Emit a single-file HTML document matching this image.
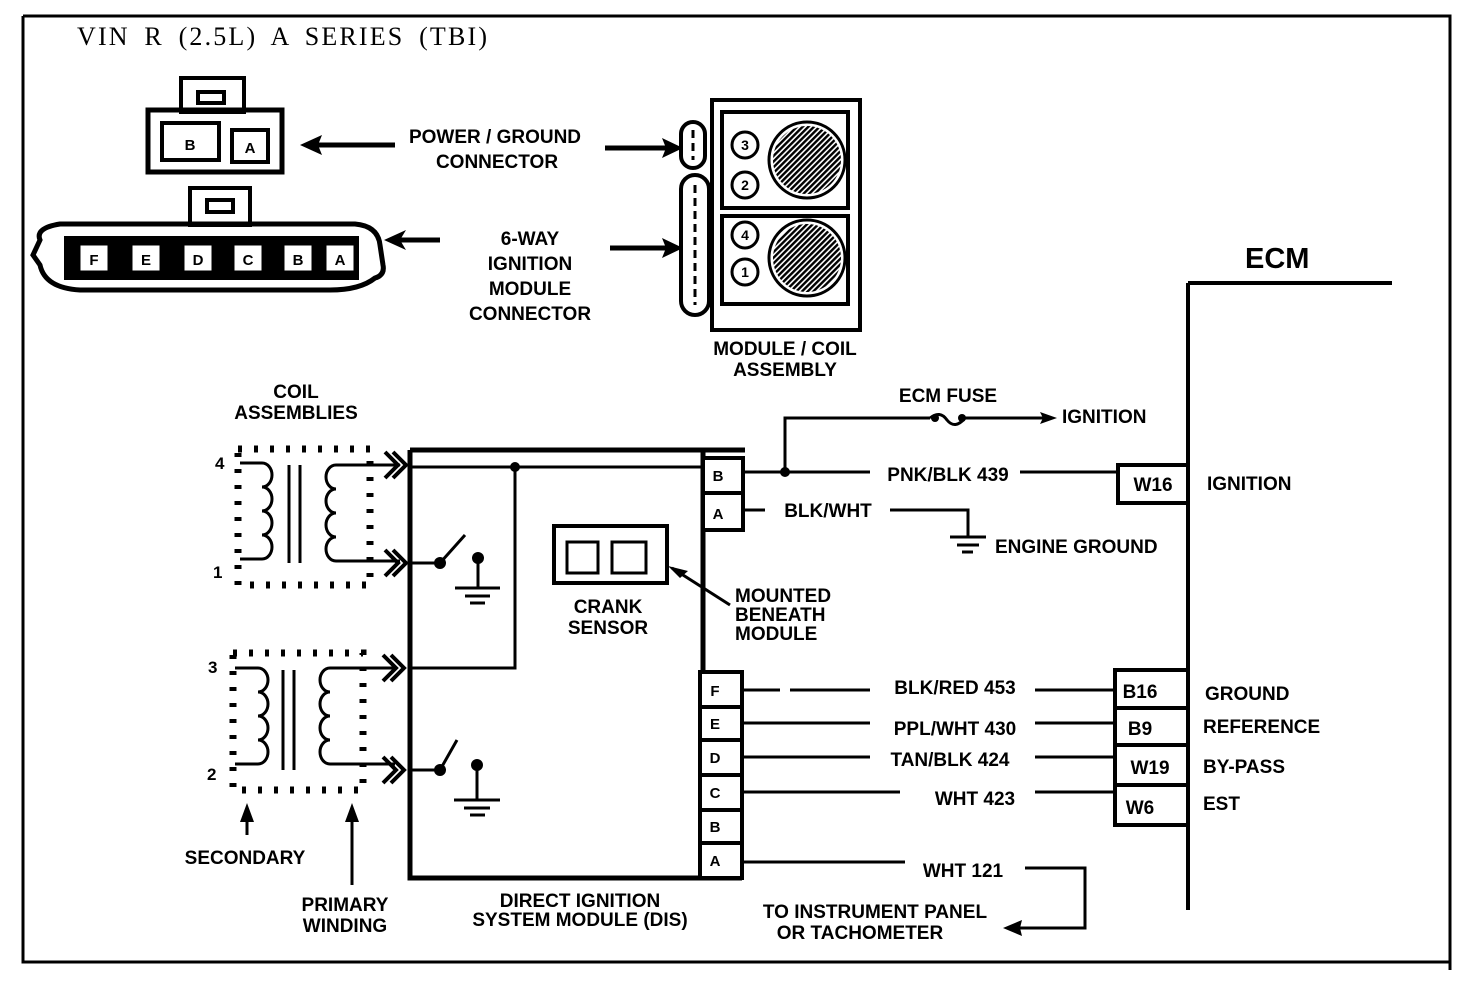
<!DOCTYPE html>
<html><head><meta charset="utf-8"><style>
html,body{margin:0;padding:0;background:#fff;}
svg{display:block;}
text{font-family:"Liberation Sans",sans-serif;font-weight:bold;fill:#000;}
.l{font-size:19px;}
</style></head><body>
<svg width="1472" height="982" viewBox="0 0 1472 982" xmlns="http://www.w3.org/2000/svg">
<defs>
<pattern id="h" width="4" height="4" patternUnits="userSpaceOnUse" patternTransform="rotate(45)">
<rect width="4" height="4" fill="#fff"/><rect width="2.4" height="4" fill="#000"/></pattern>
</defs>
<g fill="none" stroke="#000" stroke-width="3">
<path d="M23 16 H1450 V970 M23 16 V962 H1450" stroke-width="3"/>
<rect x="181" y="78" width="63" height="34" stroke-width="4"/>
<rect x="198" y="92" width="26" height="11" stroke-width="4"/>
<rect x="148" y="110" width="134" height="62" stroke-width="5"/>
<rect x="162" y="123" width="57" height="37" stroke-width="4"/>
<rect x="232" y="130" width="36" height="32" stroke-width="4"/>
<path d="M310 145 H395 M605 148 H672" stroke-width="5"/>
<rect x="190" y="188" width="60" height="37" stroke-width="4"/>
<rect x="207" y="200" width="26" height="12" stroke-width="4"/>
<path d="M40 240 Q35 228 60 224 H355 Q378 226 380 245 L383 265 Q385 275 375 278 Q360 290 330 290 H80 Q45 288 40 265 L33 255 Z" stroke-width="5"/>
<path d="M395 240 H440 M610 248 H672" stroke-width="5"/>
<rect x="712" y="100" width="148" height="230" stroke-width="4"/>
<rect x="722" y="112" width="126" height="96" stroke-width="4"/>
<rect x="722" y="216" width="126" height="88" stroke-width="4"/>
<rect x="681" y="122" width="24" height="46" rx="12" stroke-width="4"/>
<rect x="681" y="175" width="28" height="140" rx="14" stroke-width="4"/>
<path d="M693 130 V160 M695 185 V305" stroke-width="3" stroke-dasharray="8 5"/>
<circle cx="745" cy="145" r="13"/><circle cx="745" cy="185" r="13"/>
<circle cx="745" cy="235" r="13"/><circle cx="745" cy="272" r="13"/>
<circle cx="807" cy="160" r="38"/><circle cx="807" cy="258" r="38"/>
<path d="M1188 283 H1392 M1188 283 V910" stroke-width="4"/>
<rect x="1118" y="465" width="70" height="38" stroke-width="4"/>
<rect x="1115" y="670" width="73" height="38" stroke-width="4"/>
<rect x="1115" y="708" width="73" height="37" stroke-width="4"/>
<rect x="1115" y="745" width="73" height="40" stroke-width="4"/>
<rect x="1115" y="785" width="73" height="40" stroke-width="4"/>
<path d="M410 450 H745 M410 450 V878 H742 M703 450 V878" stroke-width="5"/>
<rect x="703" y="458" width="40" height="72" stroke-width="4" fill="#fff"/>
<path d="M703 493 H743" stroke-width="4"/>
<rect x="700" y="672" width="42" height="206" stroke-width="4" fill="#fff"/>
<path d="M700 707 H742 M700 740 H742 M700 775 H742 M700 810 H742 M700 843 H742" stroke-width="4"/>
<path d="M410 467 H703 M515 467 V668 H410"/>
<path d="M410 563 H440 L465 535 M478 558 V588 M455 588 H500 M465 596 H490 M470 603 H485"/>
<path d="M410 770 H440 L457 740 M477 765 V800 M454 800 H500 M464 808 H490 M470 815 H485"/>
<rect x="554" y="526" width="113" height="57" stroke-width="4"/>
<rect x="567" y="542" width="31" height="31"/><rect x="612" y="542" width="34" height="31"/>
<path d="M730 605 L672 568"/>
<path d="M743 472 H870 M1020 472 H1118 M785 472 V418 H930 M965 418 H1045"/>
<path d="M930 418 Q940 410 947 420 Q955 430 965 418"/>
<path d="M743 510 H765 M890 510 H968 V537 M950 537 H986 M957 545 H979 M962 552 H973"/>
<path d="M742 690 H780 M790 690 H870 M1035 690 H1115 M742 723 H870 M1035 723 H1115 M742 757 H870 M1035 757 H1115 M742 792 H900 M1035 792 H1115 M742 862 H905 M1025 868 H1085 V928 H1010"/>
<path d="M247 835 V810 M352 885 V810" />
<g stroke-dasharray="4 12" stroke-width="7">
<rect x="238" y="449" width="132" height="136"/>
<rect x="233" y="653" width="130" height="137"/>
</g>
<path d="M240 463 H262 a10 12 0 0 1 0 24 a10 12 0 0 1 0 24 a10 12 0 0 1 0 24 a10 12 0 0 1 0 24 H240"/>
<path d="M400 465 H336 a10 12 0 0 0 0 24 a10 12 0 0 0 0 24 a10 12 0 0 0 0 24 a10 12 0 0 0 0 24 H400"/>
<path d="M289 465 V563 M300 465 V563"/>
<path d="M235 668 H258 a10 12 0 0 1 0 24 a10 12 0 0 1 0 24 a10 12 0 0 1 0 24 a10 12 0 0 1 0 24 H235"/>
<path d="M395 668 H330 a10 12 0 0 0 0 24 a10 12 0 0 0 0 24 a10 12 0 0 0 0 24 a10 12 0 0 0 0 24 H395"/>
<path d="M283 670 V770 M294 670 V770"/>
<g stroke-width="4">
<path d="M385 452 L398 465 L385 478 M393 452 L406 465 L393 478"/>
<path d="M385 550 L398 563 L385 576 M393 550 L406 563 L393 576"/>
<path d="M383 655 L396 668 L383 681 M391 655 L404 668 L391 681"/>
<path d="M383 757 L396 770 L383 783 M391 757 L404 770 L391 783"/>
</g>
</g>
<g fill="#000">
<circle cx="515" cy="467" r="5"/><circle cx="785" cy="472" r="5"/>
<circle cx="440" cy="563" r="6"/><circle cx="478" cy="558" r="6"/>
<circle cx="440" cy="770" r="6"/><circle cx="477" cy="765" r="6"/>
<circle cx="935" cy="418" r="4"/><circle cx="962" cy="418" r="4"/>
<circle cx="807" cy="160" r="34" fill="url(#h)"/><circle cx="807" cy="258" r="34" fill="url(#h)"/>
<rect x="64" y="236" width="295" height="44"/>
<path d="M300 145 L322 135 L318 145 L322 155 Z M683 148 L662 138 L666 148 L662 158 Z M384 240 L406 230 L400 240 L406 250 Z M683 248 L662 238 L666 248 L662 258 Z"/>
<path d="M1057 418 L1040 412 L1043 418 L1040 424 Z M668 566 L688 571 L680 578 Z M1003 928 L1022 920 L1020 928 L1022 936 Z"/>
<path d="M247 803 L240 822 L254 822 Z M352 803 L345 822 L359 822 Z"/>
</g>
<g fill="#fff" stroke="#000" stroke-width="3">
<rect x="79" y="244" width="30" height="28"/><rect x="131" y="244" width="30" height="28"/>
<rect x="183" y="244" width="30" height="28"/><rect x="233" y="244" width="30" height="28"/>
<rect x="283" y="244" width="30" height="28"/><rect x="325" y="244" width="30" height="28"/>
</g>
<g class="l" text-anchor="middle">
<text x="94" y="265" font-size="15">F</text><text x="146" y="265" font-size="15">E</text>
<text x="198" y="265" font-size="15">D</text><text x="248" y="265" font-size="15">C</text>
<text x="298" y="265" font-size="15">B</text><text x="340" y="265" font-size="15">A</text>
<text x="190" y="150" font-size="15">B</text><text x="250" y="153" font-size="15">A</text>
<text x="745" y="150" font-size="14">3</text><text x="745" y="190" font-size="14">2</text>
<text x="745" y="240" font-size="14">4</text><text x="745" y="277" font-size="14">1</text>
<text x="718" y="481" font-size="15">B</text><text x="718" y="519" font-size="15">A</text>
<text x="715" y="696" font-size="15">F</text><text x="715" y="729" font-size="15">E</text>
<text x="715" y="763" font-size="15">D</text><text x="715" y="798" font-size="15">C</text>
<text x="715" y="832" font-size="15">B</text><text x="715" y="866" font-size="15">A</text>
<text x="495" y="143">POWER / GROUND</text><text x="497" y="168">CONNECTOR</text>
<text x="530" y="245">6-WAY</text><text x="530" y="270">IGNITION</text>
<text x="530" y="295">MODULE</text><text x="530" y="320">CONNECTOR</text>
<text x="785" y="355">MODULE / COIL</text><text x="785" y="376">ASSEMBLY</text>
<text x="296" y="398">COIL</text><text x="296" y="419">ASSEMBLIES</text>
<text x="608" y="613">CRANK</text><text x="608" y="634">SENSOR</text>
<text x="245" y="864">SECONDARY</text>
<text x="345" y="911">PRIMARY</text><text x="345" y="932">WINDING</text>
<text x="580" y="907">DIRECT IGNITION</text><text x="580" y="926">SYSTEM MODULE (DIS)</text>
<text x="948" y="402">ECM FUSE</text>
<text x="948" y="481">PNK/BLK 439</text>
<text x="828" y="517">BLK/WHT</text>
<text x="955" y="694">BLK/RED 453</text>
<text x="955" y="735">PPL/WHT 430</text>
<text x="950" y="766">TAN/BLK 424</text>
<text x="975" y="805">WHT 423</text>
<text x="963" y="877">WHT 121</text>
<text x="875" y="918">TO INSTRUMENT PANEL</text>
<text x="860" y="939">OR TACHOMETER</text>
<text x="1153" y="491">W16</text><text x="1140" y="698">B16</text>
<text x="1140" y="735">B9</text><text x="1150" y="774">W19</text><text x="1140" y="814">W6</text>
</g>
<g class="l">
<text x="735" y="602">MOUNTED</text><text x="735" y="621">BENEATH</text><text x="735" y="640">MODULE</text>
<text x="1062" y="423">IGNITION</text>
<text x="995" y="553">ENGINE GROUND</text>
<text x="1207" y="490">IGNITION</text>
<text x="1205" y="700">GROUND</text><text x="1203" y="733">REFERENCE</text>
<text x="1203" y="773">BY-PASS</text><text x="1203" y="810">EST</text>
<text x="1245" y="268" font-size="29">ECM</text>
<text x="215" y="469" font-size="17">4</text><text x="213" y="578" font-size="17">1</text>
<text x="208" y="673" font-size="17">3</text><text x="207" y="780" font-size="17">2</text>
</g>
<text x="77" y="45" textLength="410" lengthAdjust="spacing" style="font-family:'Liberation Serif',serif;font-weight:normal;font-size:26px;word-spacing:6px">VIN R (2.5L) A SERIES (TBI)</text>
</svg>
</body></html>
